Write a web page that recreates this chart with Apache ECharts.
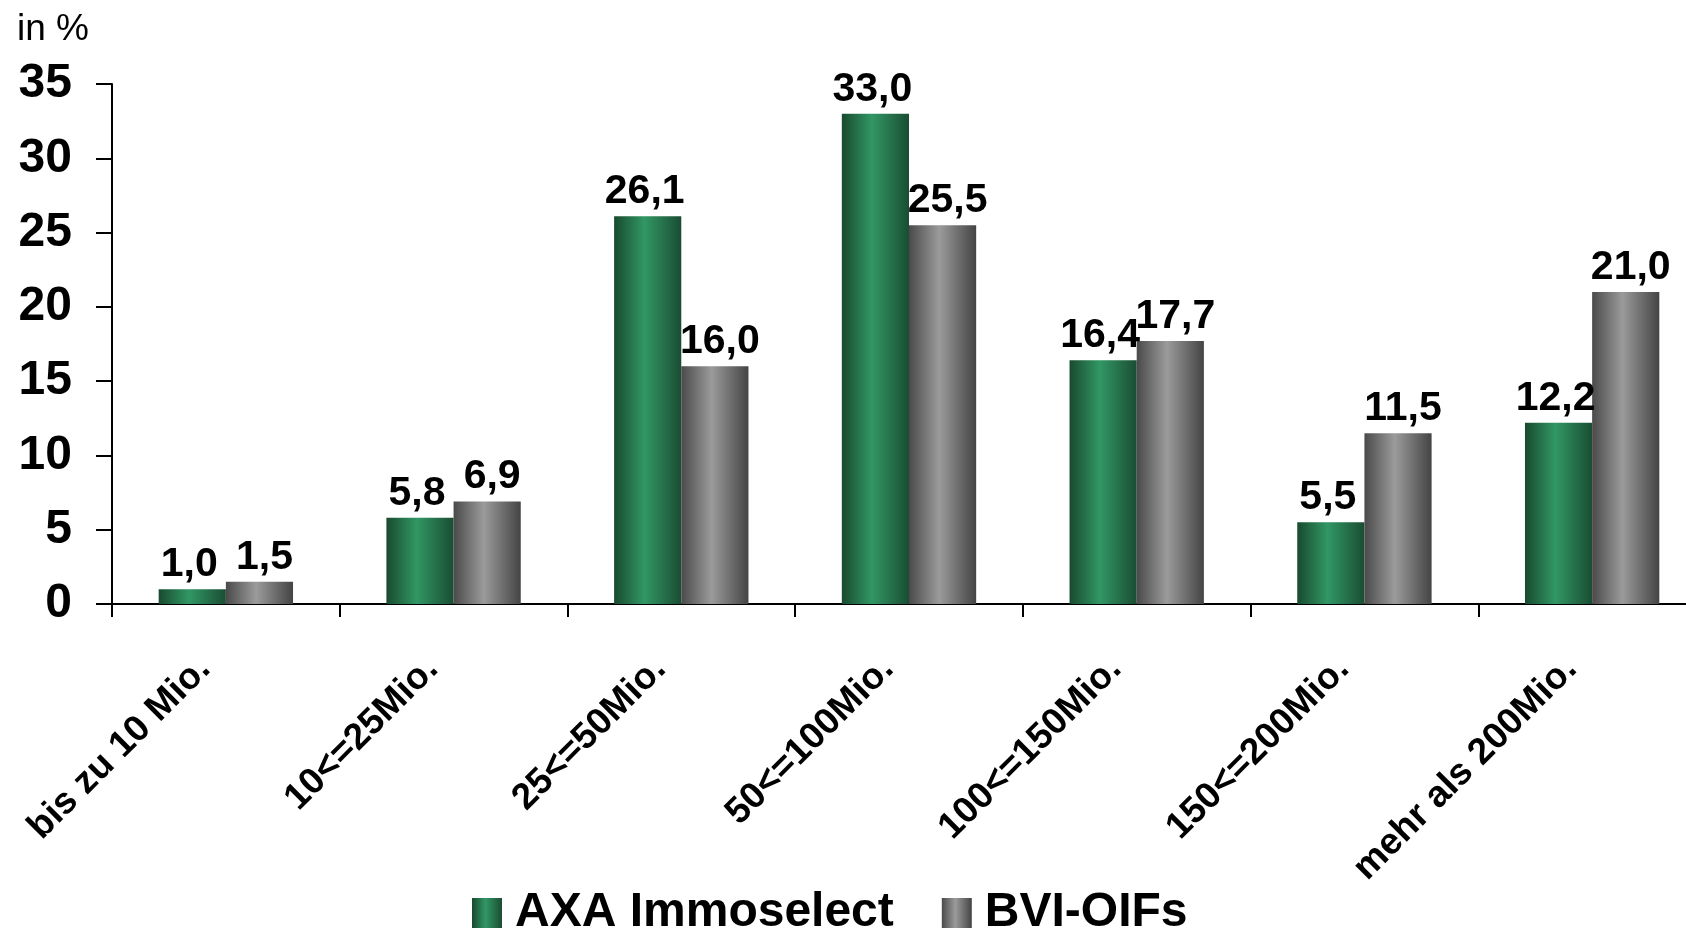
<!DOCTYPE html>
<html>
<head>
<meta charset="utf-8">
<script src="https://cdn.jsdelivr.net/npm/echarts@6/dist/echarts.min.js"></script>
<style>
html,body{margin:0;padding:0;background:#fff;overflow:hidden;}
#c{width:1706px;height:934px;}
</style>
</head>
<body>
<div id="c"></div>
<script>
const categories = ['bis zu 10 Mio.', '10<=25Mio.', '25<=50Mio.', '50<=100Mio.', '100<=150Mio.', '150<=200Mio.', 'mehr als 200Mio.'];
const seriesNames = ['AXA Immoselect', 'BVI-OIFs'];
const axaValues = [1.0, 5.8, 26.1, 33.0, 16.4, 5.5, 12.2];
const bviValues = [1.5, 6.9, 16.0, 25.5, 17.7, 11.5, 21.0];
const unitLabel = 'in %';

const FONT = "'Liberation Sans', Arial, sans-serif";

function grad(edgeL, mid, edgeR) {
  return new echarts.graphic.LinearGradient(0, 0, 1, 0, [
    {offset: 0, color: edgeL},
    {offset: 0.45, color: mid},
    {offset: 1, color: edgeR}
  ]);
}
const greenGrad = grad('#184a2f', '#319764', '#1a4d33');
const grayGrad = grad('#4a4a4a', '#9b9b9b', '#444444');

const fmt = p => p.value.toFixed(1).replace('.', ',');

function labelStyle(dx) {
  return {
    show: true,
    position: 'top',
    distance: 4,
    offset: [dx, 0],
    formatter: fmt,
    fontFamily: FONT,
    fontWeight: 'bold',
    fontSize: 41,
    color: '#000'
  };
}

const chart = echarts.init(document.getElementById('c'), null, {renderer: 'canvas'});
chart.setOption({
  backgroundColor: '#fff',
  animation: false,
  textStyle: {fontFamily: FONT},
  graphic: [{
    type: 'text', left: 17, top: 11,
    style: {text: unitLabel, font: "37px " + FONT, fill: '#000'}
  }],
  legend: {
    bottom: -8,
    left: 467,
    itemWidth: 30,
    itemHeight: 30,
    itemGap: 48,
    icon: 'rect',
    textStyle: {fontFamily: FONT, fontWeight: 'bold', fontSize: 48, color: '#000', padding: [0, 0, 0, 8]},
    data: seriesNames
  },
  grid: {left: 112, top: 84, right: 0, height: 520, containLabel: false},
  xAxis: {
    type: 'category',
    data: categories,
    axisLine: {lineStyle: {color: '#000', width: 2}},
    axisTick: {show: true, length: 13, lineStyle: {color: '#000', width: 2}},
    axisLabel: {
      rotate: 45,
      interval: 0,
      margin: 38,
      padding: [0, 30, 0, 0],
      fontFamily: FONT,
      fontWeight: 'bold',
      fontSize: 37,
      color: '#000'
    }
  },
  yAxis: {
    type: 'value',
    min: 0, max: 35, interval: 5,
    splitLine: {show: false},
    axisLine: {show: true, lineStyle: {color: '#000', width: 2}},
    axisTick: {show: true, length: 16, lineStyle: {color: '#000', width: 2}},
    axisLabel: {
      margin: 40,
      fontFamily: FONT,
      fontWeight: 'bold',
      fontSize: 48,
      color: '#000'
    }
  },
  series: [
    {
      name: seriesNames[0], type: 'bar', data: axaValues,
      barGap: '0%', barCategoryGap: '41%',
      itemStyle: {color: greenGrad},
      label: labelStyle(-3)
    },
    {
      name: seriesNames[1], type: 'bar', data: bviValues,
      barGap: '0%', barCategoryGap: '41%',
      itemStyle: {color: grayGrad},
      label: labelStyle(5)
    }
  ]
});
</script>
</body>
</html>
